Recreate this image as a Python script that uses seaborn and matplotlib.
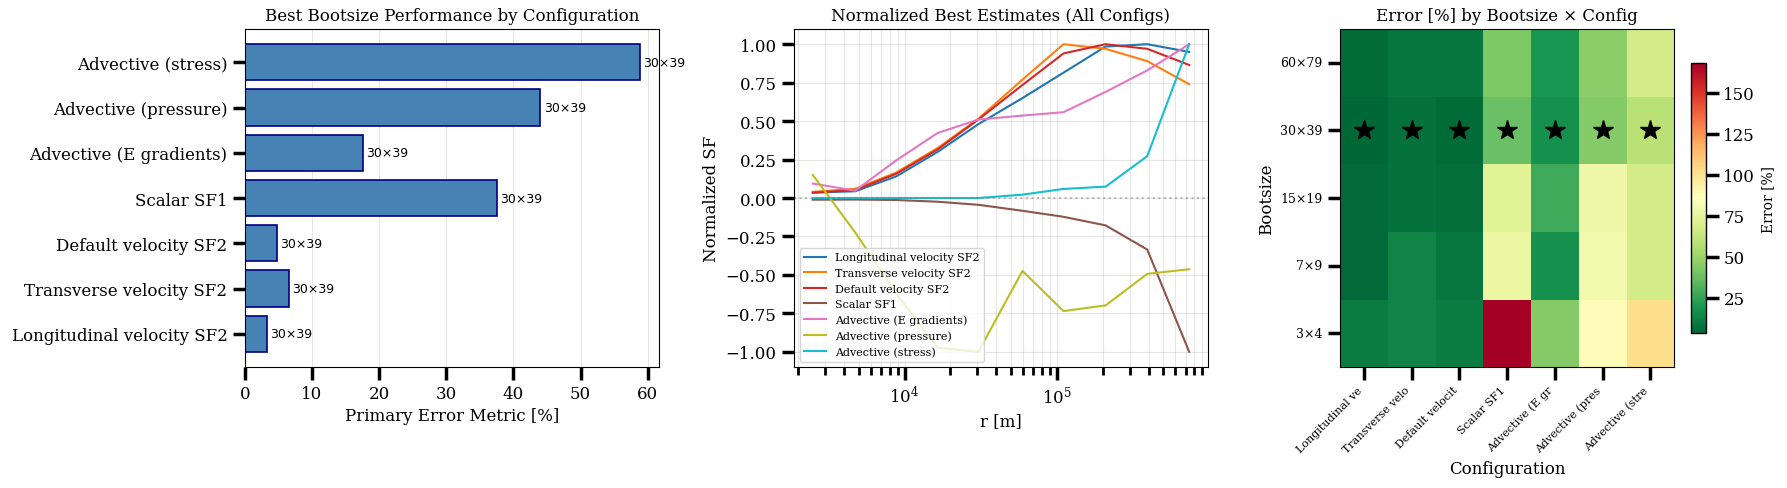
import numpy as np
import pandas as pd
import seaborn as sns
import matplotlib.pyplot as plt

plt.rcParams['font.family'] = 'serif'
plt.rcParams['font.size'] = 12
plt.rcParams['xtick.major.size'] = 9
plt.rcParams['ytick.major.size'] = 9
plt.rcParams['xtick.major.width'] = 2.5
plt.rcParams['ytick.major.width'] = 2.5
plt.rcParams['xtick.minor.size'] = 5.5
plt.rcParams['xtick.minor.width'] = 2

# configurations (same order everywhere)
configs = ['Longitudinal velocity SF2', 'Transverse velocity SF2', 'Default velocity SF2',
           'Scalar SF1', 'Advective (E gradients)', 'Advective (pressure)', 'Advective (stress)']
colors = ['#1f77b4', '#ff7f0e', '#d62728', '#8c564b', '#e377c2', '#bcbd22', '#17becf']

# error [%] per bootsize (rows) and config (columns)
bootsizes = ['60×79', '30×39', '15×19', '7×9', '3×4']
err_60x79 = [5.0, 8.0, 8.0, 43.0, 20.0, 46.0, 67.0]
err_30x39 = [3.3, 6.6, 4.8, 37.5, 17.6, 44.0, 58.8]
err_15x19 = [4.0, 7.0, 5.5, 73.0, 28.0, 78.0, 67.0]
err_7x9 = [4.5, 13.0, 9.0, 77.0, 18.0, 80.0, 68.0]
err_3x4 = [10.0, 13.5, 10.0, 168.0, 44.0, 87.0, 102.0]

# normalized best estimates
r = [2500, 4750, 8800, 16500, 30500, 59500, 110500, 209000, 392000, 739000]
sf_long = [0.035, 0.044, 0.14, 0.30, 0.48, 0.65, 0.815, 0.985, 1.00, 0.95]
sf_trans = [0.04, 0.06, 0.165, 0.325, 0.515, 0.77, 1.00, 0.97, 0.89, 0.74]
sf_default = [0.035, 0.052, 0.157, 0.316, 0.51, 0.735, 0.94, 1.00, 0.97, 0.865]
sf_scalar = [-0.011, -0.01, -0.013, -0.024, -0.044, -0.083, -0.122, -0.178, -0.335, -1.0]
sf_egrad = [0.094, 0.048, 0.244, 0.423, 0.51, 0.536, 0.558, 0.69, 0.83, 1.00]
sf_pressure = [0.15, -0.224, -0.62, -0.974, -1.0, -0.474, -0.735, -0.698, -0.493, -0.463]
sf_stress = [0.0, 0.0, 0.0, 0.0, 0.0, 0.022, 0.059, 0.074, 0.272, 1.00]

err = pd.DataFrame([err_60x79, err_30x39, err_15x19, err_7x9, err_3x4],
                   index=bootsizes, columns=configs)
best_row = err.values.argmin(axis=0)
best_err = err.min(axis=0)
best_size = [bootsizes[i] for i in best_row]

fig = plt.figure(figsize=(17.87, 4.89), dpi=100)
ax1 = fig.add_axes([0.137, 0.247, 0.232, 0.692])
ax2 = fig.add_axes([0.4443, 0.247, 0.2317, 0.692])
ax3 = fig.add_axes([0.7499, 0.247, 0.187, 0.692])
cax = fig.add_axes([0.9463, 0.316, 0.0084, 0.553])

# 1. best bootsize per config
df_best = pd.DataFrame({'config': configs, 'err': best_err.values, 'size': best_size})
sns.barplot(data=df_best, x='err', y='config', order=configs[::-1], color='steelblue',
            saturation=1, edgecolor='navy', linewidth=1.2, ax=ax1)
ax1.set_autoscaley_on(True)
ax1.margins(y=0.05)
ax1.autoscale_view()
for i, row in df_best.iterrows():
    ypos = configs[::-1].index(row['config'])
    ax1.text(row['err'] + 0.5, ypos, row['size'], va='center', fontsize=9, family='DejaVu Sans')
ax1.set_xlabel('Primary Error Metric [%]')
ax1.set_ylabel('')
ax1.set_title('Best Bootsize Performance by Configuration', fontsize=12)
ax1.grid(axis='x', alpha=0.3)
ax1.set_axisbelow(True)

# 2. normalized curves
sf_all = [sf_long, sf_trans, sf_default, sf_scalar, sf_egrad, sf_pressure, sf_stress]
df_sf = pd.concat([pd.DataFrame({'r': r, 'sf': v, 'config': c}) for c, v in zip(configs, sf_all)])
sns.lineplot(data=df_sf, x='r', y='sf', hue='config', hue_order=configs, palette=colors,
             linewidth=1.5, ax=ax2)
ax2.set_xscale('log')
ax2.axhline(0, color='gray', ls=':', alpha=0.5)
ax2.grid(True, which='both', alpha=0.3)
ax2.set_xlabel('r [m]')
ax2.set_ylabel('Normalized SF')
ax2.set_title('Normalized Best Estimates (All Configs)', fontsize=12)
ax2.legend(loc='lower left', fontsize=8)

# 3. heatmap
sns.heatmap(err, cmap='RdYlGn_r', ax=ax3, cbar_ax=cax,
            xticklabels=[c[:15] for c in configs], yticklabels=bootsizes,
            cbar_kws={'label': 'Error [%]'})
for j, i in enumerate(best_row):
    ax3.plot(j + 0.5, i + 0.5, marker='*', ms=15, color='black')
for s in ax3.spines.values():
    s.set_visible(True)
ax3.set_xticklabels(ax3.get_xticklabels(), rotation=45, ha='right', fontsize=8)
ax3.set_yticklabels(ax3.get_yticklabels(), rotation=0, fontsize=9)
ax3.set_xlabel('Configuration')
ax3.set_ylabel('Bootsize')
ax3.set_title('Error [%] by Bootsize × Config', fontsize=12)
cbar = ax3.collections[0].colorbar
cbar.outline.set_linewidth(1)
cbar.outline.set_edgecolor('black')
cbar.ax.tick_params(labelsize=12, width=2.5, length=9)
cbar.set_label('Error [%]', fontsize=10)

fig.savefig('out.png', dpi=100)
